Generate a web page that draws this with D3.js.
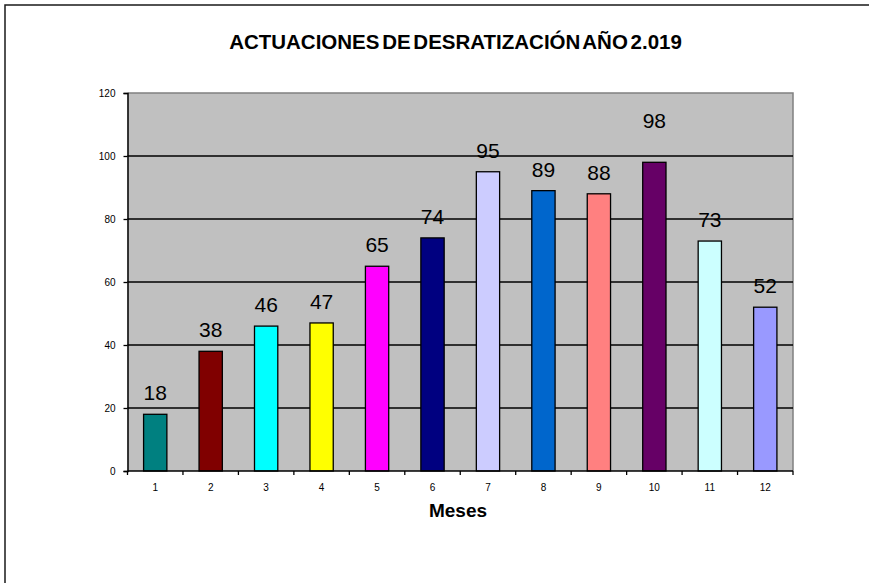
<!DOCTYPE html>
<html>
<head>
<meta charset="utf-8">
<script src="https://cdn.jsdelivr.net/npm/d3@7"></script>
<style>
  body { margin: 0; background: #fff; }
  svg { display: block; font-family: Arial, "Liberation Sans", sans-serif; }
</style>
</head>
<body>
<div id="chart"></div>
<script>
// Data
const months = ['1', '2', '3', '4', '5', '6', '7', '8', '9', '10', '11', '12'];
const actuaciones = [18, 38, 46, 47, 65, 74, 95, 89, 88, 98, 73, 52];
const barColors = ['#008080', '#800000', '#00FFFF', '#FFFF00', '#FF00FF', '#000080',
  '#CCCCFF', '#0066CC', '#FF8080', '#660066', '#CCFFFF', '#9999FF'];
const yTicks = [0, 20, 40, 60, 80, 100, 120];

const width = 869, height = 583;
const plot = { left: 127.5, right: 793, top: 93, bottom: 471 };

const svg = d3.select('#chart')
  .append('svg')
  .attr('width', width)
  .attr('height', height);

// outer chart frame (cut off at right / bottom like the source)
svg.append('path')
  .attr('d', `M5,${height + 5} L5,5 L${width + 5},5`)
  .attr('fill', 'none')
  .attr('stroke', '#1a1a1a')
  .attr('stroke-width', 1.5);

// Title
svg.append('text')
  .attr('x', 455.5)
  .attr('y', 49)
  .attr('text-anchor', 'middle')
  .style('font-size', '20.5px')
  .style('font-weight', 'bold')
  .style('word-spacing', '-3px')
  .text('ACTUACIONES DE DESRATIZACIÓN AÑO 2.019');

// Scales
const x = d3.scaleBand()
  .domain(months)
  .range([plot.left, plot.right])
  .paddingInner(0.58)
  .paddingOuter(0.29);

const y = d3.scaleLinear()
  .domain([0, 120])
  .range([plot.bottom, plot.top]);

// Plot background
svg.append('rect')
  .attr('x', plot.left)
  .attr('y', plot.top)
  .attr('width', plot.right - plot.left)
  .attr('height', plot.bottom - plot.top)
  .attr('fill', '#C0C0C0');

// top and right border (gray)
svg.append('path')
  .attr('d', `M${plot.left},${plot.top} L${plot.right},${plot.top} L${plot.right},${plot.bottom}`)
  .attr('fill', 'none')
  .attr('stroke', '#808080')
  .attr('stroke-width', 1.5);

// Gridlines
svg.append('g')
  .selectAll('line')
  .data(yTicks.filter(t => t > 0 && t < 120))
  .enter().append('line')
  .attr('x1', plot.left)
  .attr('x2', plot.right)
  .attr('y1', d => y(d))
  .attr('y2', d => y(d))
  .attr('stroke', '#000')
  .attr('stroke-width', 1.3);

// Bars
svg.append('g')
  .selectAll('rect')
  .data(actuaciones)
  .enter().append('rect')
  .attr('x', (d, i) => x(months[i]))
  .attr('y', d => y(d))
  .attr('width', x.bandwidth())
  .attr('height', d => y(0) - y(d))
  .attr('fill', (d, i) => barColors[i])
  .attr('stroke', '#000')
  .attr('stroke-width', 1.3);

// Value labels (the 98 label sits higher in the original)
svg.append('g')
  .selectAll('text')
  .data(actuaciones)
  .enter().append('text')
  .attr('x', (d, i) => x(months[i]) + x.bandwidth() / 2)
  .attr('y', (d, i) => y(d) - (i === 9 ? 34 : 14))
  .attr('text-anchor', 'middle')
  .style('font-size', '21px')
  .style('fill', '#000')
  .text(d => d);

// Y axis
const yAxis = svg.append('g')
  .attr('transform', `translate(${plot.left},0)`)
  .call(d3.axisLeft(y).tickValues(yTicks).tickSize(4).tickPadding(8));
yAxis.select('.domain').attr('stroke', '#000').attr('stroke-width', 1.5);
yAxis.selectAll('.tick line').attr('stroke', '#000').attr('stroke-width', 1.3);
yAxis.selectAll('.tick text')
  .style('font-size', '10px')
  .style('font-family', 'Arial, "Liberation Sans", sans-serif')
  .attr('fill', '#000');

// X axis: ticks at category boundaries
const xAxis = svg.append('g')
  .attr('transform', `translate(0,${plot.bottom})`);
xAxis.append('line')
  .attr('x1', plot.left)
  .attr('x2', plot.right)
  .attr('stroke', '#000')
  .attr('stroke-width', 1.5);
const step = x.step();
xAxis.selectAll('.xtick')
  .data(d3.range(months.length + 1))
  .enter().append('line')
  .attr('class', 'xtick')
  .attr('x1', i => plot.left + i * step)
  .attr('x2', i => plot.left + i * step)
  .attr('y1', 0)
  .attr('y2', 4)
  .attr('stroke', '#000')
  .attr('stroke-width', 1.3);
xAxis.selectAll('.xlabel')
  .data(months)
  .enter().append('text')
  .attr('class', 'xlabel')
  .attr('x', d => x(d) + x.bandwidth() / 2)
  .attr('y', 20)
  .attr('text-anchor', 'middle')
  .style('font-size', '10px')
  .text(d => d);

// X axis title
svg.append('text')
  .attr('x', 458)
  .attr('y', 517)
  .attr('text-anchor', 'middle')
  .style('font-size', '19px')
  .style('font-weight', 'bold')
  .text('Meses');
</script>
</body>
</html>
